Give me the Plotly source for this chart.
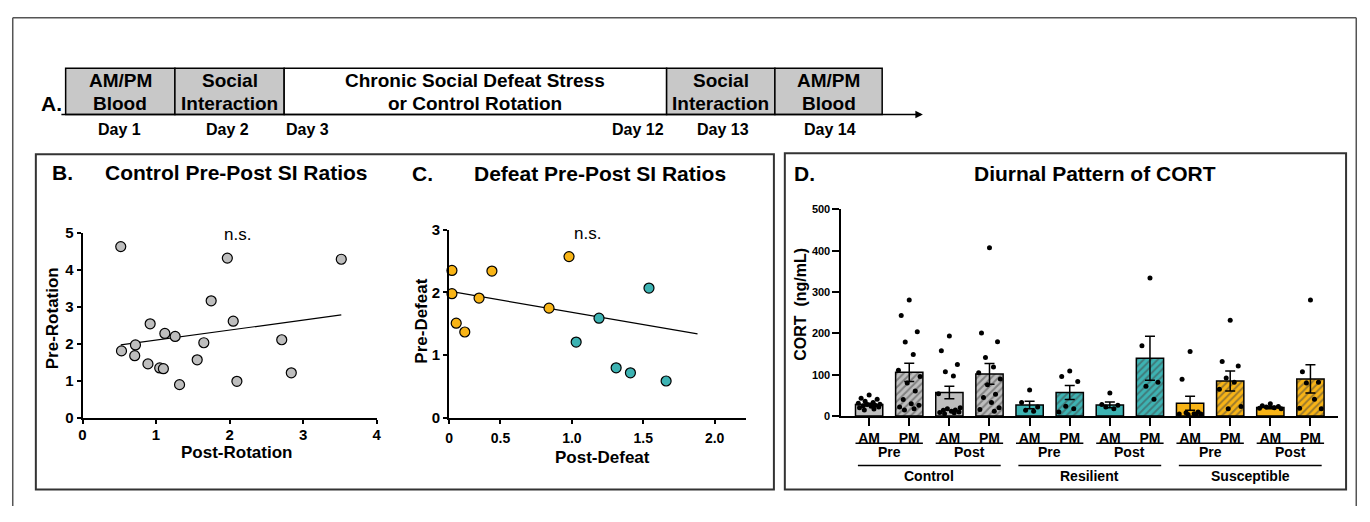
import plotly.graph_objects as go

# page is 1370x522; the browser body keeps its default 8px margin,
# so the figure itself is 1354x506 and placed at (8, 8) on the page.
PAGE_OFF = 8
W, H = 1354, 506
FONT = "Liberation Sans, Arial, sans-serif"


def px(x):
    return (x - PAGE_OFF) / W


def py(y):
    return 1 - (y - PAGE_OFF) / H


# ---------------- data ----------------
# Panel A timeline
stage_top = ["AM/PM", "Social", "Chronic Social Defeat Stress", "Social", "AM/PM"]
stage_bottom = ["Blood", "Interaction", "or Control Rotation", "Interaction", "Blood"]
day_labels = ["Day 1", "Day 2", "Day 3", "Day 12", "Day 13", "Day 14"]

# Panel B: control SI ratios
ctrl_post = [0.52, 0.53, 0.71, 0.72, 0.92, 0.89, 1.05, 1.10, 1.12, 1.26,
             1.32, 1.56, 1.65, 1.75, 1.97, 2.05, 2.10, 2.71, 2.84, 3.52]
ctrl_pre = [4.62, 1.81, 1.68, 1.97, 2.54, 1.46, 1.35, 1.33, 2.28, 2.20,
            0.90, 1.57, 2.03, 3.16, 4.31, 2.61, 0.99, 2.11, 1.22, 4.28]
ctrl_fit_x = [0.52, 3.52]
ctrl_fit_y = [1.97, 2.78]

# Panel C: defeat SI ratios
sus_post = [0.12, 0.13, 0.16, 0.16, 0.19, 0.25, 0.35, 0.44, 0.84, 0.98]
sus_pre = [2.08, 0.99, 2.35, 1.98, 1.51, 1.37, 1.91, 2.34, 1.75, 2.57]
res_post = [1.03, 1.19, 1.31, 1.41, 1.54, 1.66]
res_pre = [1.21, 1.59, 0.80, 0.72, 2.07, 0.59]
def_fit_x = [0.14, 1.88]
def_fit_y = [2.02, 1.34]

# Panel D: CORT
bar_labels = ["AM", "PM"] * 6
phase_labels = ["Pre", "Post"] * 3
group_labels = ["Control", "Resilient", "Susceptible"]
cort_mean = [28, 106, 57, 102, 27, 57, 27, 140, 31, 85, 21, 90]
cort_sem = [3, 22, 15, 25, 9, 17, 7, 53, 17, 24, 3, 34]
cort_points = [
    [51, 43, 41, 36, 33, 31, 29, 28, 26, 25, 24, 22, 20, 17, 15],
    [281, 243, 204, 179, 149, 111, 96, 80, 61, 40, 30, 26, 22, 18, 15],
    [194, 158, 125, 107, 97, 54, 20, 18, 15, 14, 12, 10, 9, 8, 6],
    [407, 201, 180, 142, 119, 105, 90, 76, 53, 45, 33, 20, 16, 12],
    [63, 33, 22, 14, 12],
    [109, 96, 84, 24, 18, 10],
    [56, 28, 26, 22, 18],
    [334, 170, 82, 72, 41],
    [156, 89, 10, 8, 6, 5, 5, 4, 3],
    [232, 132, 121, 92, 82, 65, 23, 18],
    [30, 25, 23, 22, 20, 19, 18],
    [281, 107, 82, 80, 41, 19, 18],
]

# ---------------- styles ----------------
GRAY = "#BEBEBE"
TEAL = "#3DB3B3"
ORANGE = "#F8B416"
group_colors = [GRAY, TEAL, ORANGE]

fig = go.Figure()

# Panel B scatter
fig.add_trace(go.Scatter(x=ctrl_fit_x, y=ctrl_fit_y, mode="lines",
                         line=dict(color="black", width=1.2),
                         xaxis="x", yaxis="y", hoverinfo="skip"))
fig.add_trace(go.Scatter(x=ctrl_post, y=ctrl_pre, mode="markers",
                         marker=dict(size=10, color=GRAY, line=dict(color="black", width=1.2)),
                         xaxis="x", yaxis="y", cliponaxis=False))

# Panel C scatter
fig.add_trace(go.Scatter(x=def_fit_x, y=def_fit_y, mode="lines",
                         line=dict(color="black", width=1.2),
                         xaxis="x2", yaxis="y2", hoverinfo="skip"))
fig.add_trace(go.Scatter(x=sus_post, y=sus_pre, mode="markers",
                         marker=dict(size=10, color=ORANGE, line=dict(color="black", width=1.2)),
                         xaxis="x2", yaxis="y2", cliponaxis=False))
fig.add_trace(go.Scatter(x=res_post, y=res_pre, mode="markers",
                         marker=dict(size=10, color=TEAL, line=dict(color="black", width=1.2)),
                         xaxis="x2", yaxis="y2", cliponaxis=False))

# Panel D bars
bar_x = list(range(len(cort_mean)))
bar_colors = [group_colors[i // 4] for i in bar_x]
pattern_shapes = ["" if i % 2 == 0 else "/" for i in bar_x]
fig.add_trace(go.Bar(
    x=bar_x, y=cort_mean, width=0.68,
    marker=dict(color=bar_colors, line=dict(color="black", width=1.5),
                pattern=dict(shape=pattern_shapes, bgcolor=bar_colors,
                             fgcolor="#1a1a1a", size=5, solidity=0.4)),
    error_y=dict(type="data", array=cort_sem, visible=True, color="black",
                 thickness=1.5, width=5),
    xaxis="x3", yaxis="y3"))

# Panel D dots (deterministic spread within each bar)
spread = [0.0, -0.2, 0.2, -0.1, 0.1, -0.27, 0.27, -0.05, 0.15, -0.15, 0.05, 0.24, -0.24, 0.12, -0.12]
dot_x, dot_y = [], []
for i, vals in enumerate(cort_points):
    for j, v in enumerate(vals):
        dot_x.append(i + spread[j % len(spread)])
        dot_y.append(v)
fig.add_trace(go.Scatter(x=dot_x, y=dot_y, mode="markers",
                         marker=dict(size=5, color="black"),
                         xaxis="x3", yaxis="y3", cliponaxis=False))

# ---------------- axes ----------------
def ax_style(**kw):
    d = dict(showgrid=False, zeroline=False, showline=True, linecolor="black",
             linewidth=2, ticks="outside", tickcolor="black", tickwidth=2,
             tickfont=dict(family=FONT, size=15, color="black", weight="bold"))
    d.update(kw)
    return d

layout_axes = dict(
    xaxis=ax_style(domain=[px(79), px(375)], range=[0, 4], tickvals=[0, 1, 2, 3, 4],
                   ticklen=4, anchor="y", ticklabelstandoff=-2),
    yaxis=ax_style(domain=[py(423), py(231)], range=[0, 5], tickvals=[0, 1, 2, 3, 4, 5],
                   ticklen=4, anchor="x"),
    xaxis2=ax_style(domain=[px(448), px(747)], range=[0.14, 2.22],
                    tickvals=[0.14, 0.5, 1.0, 1.5, 2.0],
                    ticktext=["0", "0.5", "1.0", "1.5", "2.0"], ticklen=4, anchor="y2",
                    ticklabelstandoff=2,
                    tickfont=dict(family=FONT, size=14, color="black", weight="bold")),
    yaxis2=ax_style(domain=[py(423), py(228)], range=[0, 3], tickvals=[0, 1, 2, 3],
                    ticklen=4, anchor="x2"),
    xaxis3=ax_style(domain=[px(843), px(1343)], range=[-0.69, 11.69], tickvals=bar_x,
                    ticktext=bar_labels, ticklen=8, anchor="y3",
                    tickfont=dict(family=FONT, size=14, color="black", weight="bold")),
    yaxis3=ax_style(domain=[py(421), py(207)], range=[0, 500],
                    tickvals=[0, 100, 200, 300, 400, 500], ticklen=7, anchor="x3",
                    tickfont=dict(family=FONT, size=11, color="black", weight="bold")),
)

# ---------------- shapes & annotations ----------------
shapes = []
annots = []


def txt(x, y, s, size, bold=True, xanchor="center", angle=0, xref="paper"):
    annots.append(dict(x=x, y=y, xref=xref, yref="paper", text=s, showarrow=False,
                       xanchor=xanchor, yanchor="middle", textangle=angle, borderpad=0,
                       font=dict(family=FONT, size=size, color="black",
                                 weight="bold" if bold else "normal")))


def line(x0, y0, x1, y1, color="black", width=1.5, xref="paper"):
    shapes.append(dict(type="line", xref=xref, yref="paper", x0=x0, y0=y0, x1=x1, y1=y1,
                       line=dict(color=color, width=width)))


# outer frame (top, left, right) along the figure's own edges
line(px(8.75), py(8.75), px(1361.25), py(8.75), color="#555", width=1.5)
line(px(8.75), py(8.75), px(8.75), py(514), color="#555", width=1.5)
line(px(1361.25), py(8.75), px(1361.25), py(514), color="#555", width=1.5)

# panel frames
shapes.append(dict(type="rect", xref="paper", yref="paper", x0=px(32), x1=px(775),
                   y0=py(497), y1=py(150), line=dict(color="#333", width=2)))
shapes.append(dict(type="rect", xref="paper", yref="paper", x0=px(786), x1=px(1351),
                   y0=py(497), y1=py(149), line=dict(color="#333", width=2)))

# Panel A timeline
box_edges = [62, 172, 282, 667, 776, 884]
box_fill = ["#C8C8C8", "#C8C8C8", "white", "#C8C8C8", "#C8C8C8"]
for k in range(5):
    x0, x1 = box_edges[k], box_edges[k + 1]
    shapes.append(dict(type="rect", xref="paper", yref="paper", x0=px(x0), x1=px(x1),
                       y0=py(109), y1=py(61), fillcolor=box_fill[k],
                       line=dict(color="black", width=1.5), layer="below"))
    cx = (x0 + x1) / 2
    txt(px(cx), py(74), stage_top[k], 19)
    txt(px(cx), py(98), stage_bottom[k], 19)
annots.append(dict(x=px(925), y=py(109), xref="paper", yref="paper", ax=-863, ay=0,
                   axref="pixel", ayref="pixel", text="", showarrow=True,
                   arrowhead=2, arrowsize=1, arrowwidth=1.5, arrowcolor="black"))
txt(px(48), py(98), "A.", 21)
day_pos = [(116, "center"), (225, "center"), (283, "left"), (665, "right"),
           (724, "center"), (831, "center")]
for (xx, anc), lab in zip(day_pos, day_labels):
    txt(px(xx), py(124), lab, 16, xanchor=anc)

# Panel titles
txt(px(47), py(169), "B.", 21, xanchor="left")
txt(px(234), py(169), "Control Pre-Post SI Ratios", 21)
txt(px(410), py(170), "C.", 21, xanchor="left")
txt(px(600), py(170), "Defeat Pre-Post SI Ratios", 21)
txt(px(794), py(170), "D.", 21, xanchor="left")
txt(px(1098), py(170), "Diurnal Pattern of CORT", 21)

# Axis titles
txt(px(234), py(459), "Post-Rotation", 17)
txt(px(49), py(320), "Pre-Rotation", 17, angle=-90)
txt(px(235), py(233), "n.s.", 17, bold=False)
txt(px(602), py(464), "Post-Defeat", 17)
txt(px(420), py(323), "Pre-Defeat", 17, angle=-90)
txt(px(587), py(232), "n.s.", 17, bold=False)
txt(px(801), py(305), "CORT  (ng/mL)", 16, angle=-90)

# Panel D category labels
for k in range(6):
    line(2 * k - 0.34, py(449), 2 * k + 1.34, py(449), width=1.5, xref="x3")
    txt(2 * k + 0.5, py(458), phase_labels[k], 14, xref="x3")
for g in range(3):
    line(4 * g - 0.28, py(472), 4 * g + 3.28, py(472), width=1.5, xref="x3")
    txt(4 * g + 1.5, py(483), group_labels[g], 14, xref="x3")

fig.update_layout(
    width=W, height=H, margin=dict(l=0, r=0, t=0, b=0),
    paper_bgcolor="white", plot_bgcolor="white", showlegend=False,
    font=dict(family=FONT, color="black"),
    shapes=shapes, annotations=annots, bargap=0.3,
    **layout_axes,
)

fig.write_html("out.html", config={"displayModeBar": False})
